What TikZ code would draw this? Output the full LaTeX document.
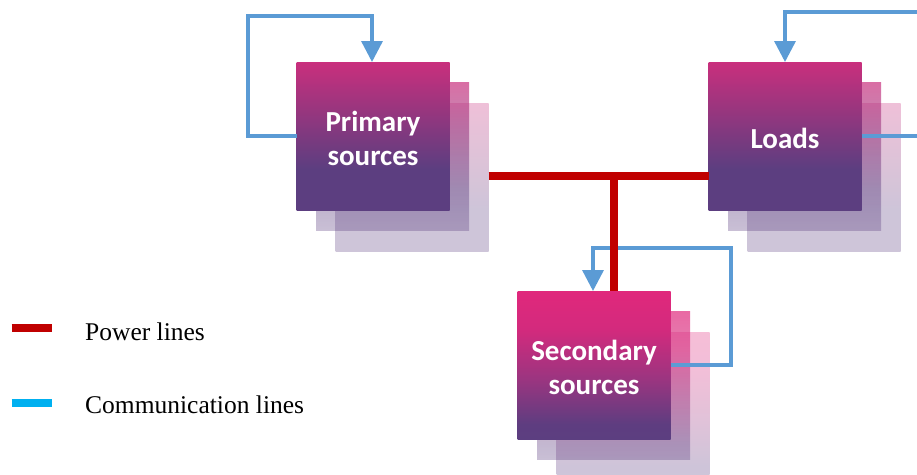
\documentclass[tikz,border=0pt]{standalone}
\usepackage{fontspec}
\setmainfont{Liberation Serif}
\newfontfamily\boxfont{Carlito}
\usetikzlibrary{arrows.meta,fadings}
\definecolor{gTop}{HTML}{C92F7D}
\definecolor{gBot}{HTML}{5C3E80}
\definecolor{sTop}{HTML}{E0287C}
\definecolor{sA}{HTML}{D32A7D}
\definecolor{sB}{HTML}{9A3580}
\definecolor{sC}{HTML}{5E3D80}
\definecolor{powerred}{HTML}{C00000}
\definecolor{commblue}{HTML}{5B9BD5}
\definecolor{legblue}{HTML}{00B0F0}
\pgfdeclareverticalshading{pgrad}{100bp}{color(0bp)=(gBot); color(39bp)=(gBot); color(75bp)=(gTop); color(100bp)=(gTop)}
\pgfdeclareverticalshading{sgrad}{100bp}{color(0bp)=(gBot); color(25bp)=(gBot); color(30bp)=(sC); color(45bp)=(sB); color(62bp)=(sA); color(75bp)=(sTop); color(100bp)=(sTop)}
\tikzfading[name=shfade, top color=transparent!30, bottom color=transparent!67]
\tikzset{
  box/.style={minimum width=153pt, minimum height=148pt, inner sep=0pt, outer sep=0pt},
  boxtext/.style={text=white, align=center, inner sep=0pt, font=\boxfont\bfseries\fontsize{29}{34}\selectfont},
  shadowone/.style={box, path fading=shfade},
  shadowtwo/.style={box, opacity=0.3},
  power/.style={draw=powerred, line width=8pt},
  comm/.style={draw=commblue, line width=3.4pt, line join=miter, -{Triangle[length=21pt,width=21pt]}},
  legtext/.style={anchor=base west, inner sep=0pt, font=\fontsize{25.5}{30}\selectfont}
}
\begin{document}
\begin{tikzpicture}[x=1pt,y=-1pt]
\useasboundingbox (0,0) rectangle (917,474);
\clip (0,0) rectangle (917,474);
% centres
\coordinate (pc) at (373,136);
\coordinate (lc) at (785,136);
\coordinate (sc) at (594,365);
% primary
\node[shadowtwo, shading=pgrad] (ps2) at ([shift={(39,41)}]pc) {};
\node[shadowone, shading=pgrad] (ps1) at ([shift={(19.5,20)}]pc) {};
\node[box, shading=pgrad] (pri) at (pc) {};
\node[boxtext] (pritxt) at ([yshift=-2pt]pri.center) {Primary\\sources};
% loads
\node[shadowtwo, shading=pgrad] (ls2) at ([shift={(39,41)}]lc) {};
\node[shadowone, shading=pgrad] (ls1) at ([shift={(19.5,20)}]lc) {};
\node[box, shading=pgrad] (ld) at (lc) {};
\node[boxtext] (ldtxt) at ([yshift=-2pt]ld.center) {Loads};
% secondary
\node[shadowtwo, shading=sgrad] (ss2) at ([shift={(39,41)}]sc) {};
\node[shadowone, shading=sgrad] (ss1) at ([shift={(19.5,20)}]sc) {};
\node[box, shading=sgrad] (sec) at (sc) {};
\node[boxtext] (sectxt) at ([yshift=-2pt]sec.center) {Secondary\\sources};
% communication loops
\coordinate (pA) at (248,16);
\coordinate (lA) at (940,12);
\coordinate (sA) at (731,248);
\draw[comm] (pri.west) -| (pA) -| ([xshift=-1pt]pri.north);
\draw[comm] (ld.east) -| (lA) -| (ld.north);
\draw[comm] (sec.east) -| (sA) -| ([xshift=-1pt]sec.north);
% power bus
\coordinate (bus) at (613.5,176);
\draw[power] (ps2.east |- bus) -- (ld.west |- bus);
\draw[power] (bus) -- (sec.north -| bus);
% legend
\coordinate (lp1) at (11.5,328);
\coordinate (lp2) at (52,328);
\coordinate (lc1) at (11.5,403);
\coordinate (lc2) at (52,403);
\draw[draw=powerred, line width=8pt] (lp1) -- (lp2);
\draw[draw=legblue, line width=8.5pt] (lc1) -- (lc2);
\node[legtext] (lpt) at (85,340) {Power lines};
\node[legtext] (lct) at (85,413) {Communication lines};
\end{tikzpicture}
\end{document}
